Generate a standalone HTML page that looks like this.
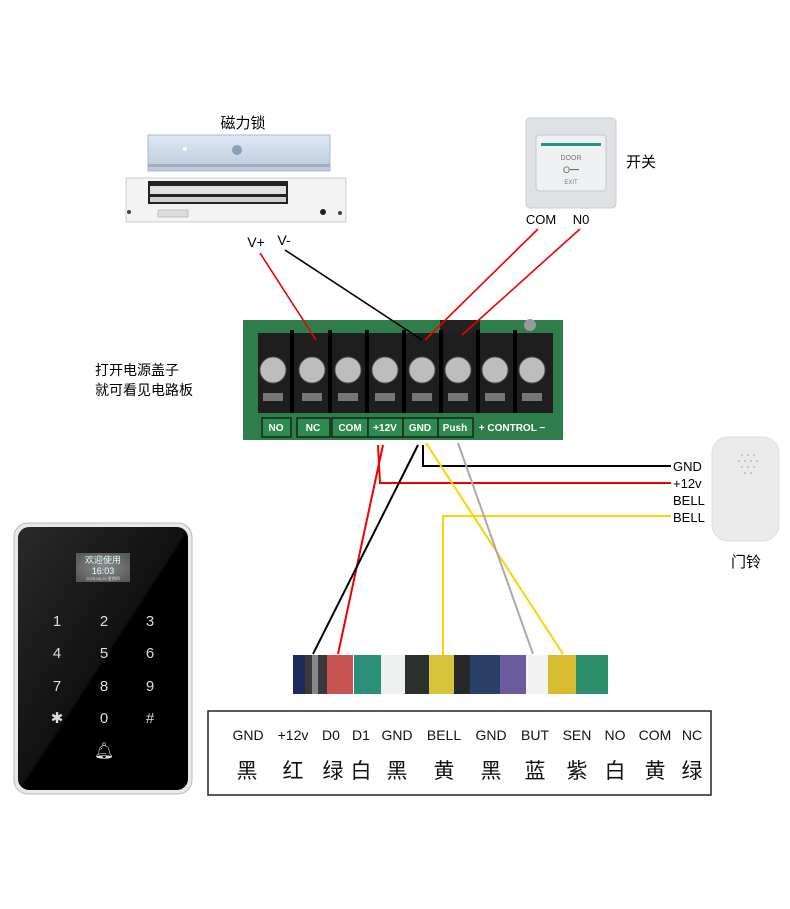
<!DOCTYPE html>
<html><head><meta charset="utf-8"><style>
body{margin:0;background:#fff;width:790px;height:904px;overflow:hidden}
text{font-family:"Liberation Sans","Noto Sans CJK SC",sans-serif}
</style></head><body>
<svg width="790" height="904" viewBox="0 0 790 904" xmlns="http://www.w3.org/2000/svg">
<defs>
<linearGradient id="met" x1="0" y1="0" x2="0" y2="1"><stop offset="0" stop-color="#dfe8f4"/><stop offset="1" stop-color="#b9c9dd"/></linearGradient>
<linearGradient id="kp" x1="0" y1="0" x2="1" y2="1"><stop offset="0" stop-color="#2a2a2a"/><stop offset="0.5" stop-color="#111"/><stop offset="0.51" stop-color="#000"/><stop offset="1" stop-color="#000"/></linearGradient>
<radialGradient id="scr" cx="0.5" cy="0.5" r="0.6"><stop offset="0" stop-color="#8c8c8c"/><stop offset="1" stop-color="#5a5a5a"/></radialGradient>
</defs>
<!-- magnetic lock -->
<text x="243" y="128" font-size="15" text-anchor="middle" fill="#000">磁力锁</text>
<rect x="148" y="135" width="182" height="36" fill="url(#met)" stroke="#a8b8cc"/>
<circle cx="237" cy="150" r="5" fill="#8aa0bc"/><circle cx="185" cy="149" r="2" fill="#fff"/>
<rect x="148" y="164" width="182" height="3" fill="#aab"/>
<rect x="126" y="178" width="220" height="44" fill="#f3f3f3" stroke="#ccc"/>
<rect x="148" y="181" width="140" height="23" fill="#222"/>
<rect x="150" y="186" width="136" height="8" fill="#e0e0e0"/>
<rect x="150" y="197" width="136" height="5" fill="#cfcfcf"/>
<rect x="158" y="210" width="30" height="7" fill="#ddd" stroke="#999" stroke-width="0.5"/>
<circle cx="323" cy="212" r="3" fill="#222"/><circle cx="129" cy="212" r="2" fill="#444"/><circle cx="340" cy="213" r="2" fill="#444"/>
<text x="256" y="247" font-size="14" text-anchor="middle">V+</text>
<text x="284" y="245" font-size="14" text-anchor="middle">V-</text>
<!-- exit button -->
<rect x="526" y="118" width="90" height="90" rx="4" fill="#dfe2e4" stroke="#ccc"/>
<rect x="536" y="135" width="70" height="56" rx="3" fill="#eef0f1" stroke="#c6c9cc"/>
<rect x="541" y="143" width="60" height="3" fill="#2b8f8a"/>
<text x="571" y="160" font-size="7" text-anchor="middle" fill="#777">DOOR</text>
<text x="571" y="173" font-size="9" text-anchor="middle" fill="#666">O━</text>
<text x="571" y="184" font-size="6" text-anchor="middle" fill="#777">EXIT</text>
<text x="626" y="167" font-size="15">开关</text>
<text x="541" y="224" font-size="13" text-anchor="middle">COM</text>
<text x="581" y="224" font-size="13" text-anchor="middle">N0</text>
<!-- board -->
<rect x="243" y="320" width="320" height="120" fill="#2f7d4a"/>
<rect x="440" y="320" width="40" height="14" fill="#222"/>
<circle cx="530" cy="325" r="6" fill="#999"/>
<g>
<rect x="258" y="333" width="295" height="80" fill="#1e1e1e"/>
<g fill="#bdbdbd" stroke="#555">
<circle cx="273" cy="370" r="13"/><circle cx="312" cy="370" r="13"/><circle cx="348" cy="370" r="13"/><circle cx="385" cy="370" r="13"/><circle cx="422" cy="370" r="13"/><circle cx="458" cy="370" r="13"/><circle cx="495" cy="370" r="13"/><circle cx="532" cy="370" r="13"/>
</g>
<g fill="#000"><rect x="290" y="330" width="4" height="83"/><rect x="328" y="330" width="4" height="83"/><rect x="365" y="330" width="4" height="83"/><rect x="402" y="330" width="4" height="83"/><rect x="439" y="330" width="4" height="83"/><rect x="476" y="330" width="4" height="83"/><rect x="513" y="330" width="4" height="83"/></g>
<g fill="#777"><rect x="263" y="393" width="20" height="8"/><rect x="302" y="393" width="20" height="8"/><rect x="338" y="393" width="20" height="8"/><rect x="375" y="393" width="20" height="8"/><rect x="412" y="393" width="20" height="8"/><rect x="448" y="393" width="20" height="8"/><rect x="485" y="393" width="20" height="8"/><rect x="522" y="393" width="20" height="8"/></g>
</g>
<g fill="#2e8a4f" stroke="#111" stroke-width="1.2">
<rect x="262" y="418" width="29" height="19"/><rect x="297" y="418" width="33" height="19"/><rect x="332" y="418" width="36" height="19"/><rect x="368" y="418" width="35" height="19"/><rect x="403" y="418" width="35" height="19"/><rect x="438" y="418" width="35" height="19"/>
</g>
<g font-size="10" font-weight="bold" fill="#fff" text-anchor="middle">
<text x="276" y="431">NO</text><text x="313" y="431">NC</text><text x="350" y="431">COM</text><text x="385" y="431">+12V</text><text x="420" y="431">GND</text><text x="455" y="431">Push</text><text x="512" y="431">+ CONTROL −</text>
</g>
<text x="95" y="375" font-size="14">打开电源盖子</text>
<text x="95" y="395" font-size="14">就可看见电路板</text>
<!-- upper wires -->
<g fill="none" stroke-width="1.6">
<line x1="260" y1="253" x2="316" y2="340" stroke="#e00"/>
<line x1="285" y1="250" x2="422" y2="340" stroke="#000"/>
<line x1="538" y1="229" x2="425" y2="340" stroke="#e00"/>
<line x1="580" y1="229" x2="462" y2="335" stroke="#e00"/>
</g>
<!-- lower wires -->
<g fill="none" stroke-width="2">
<polyline points="423,445 423,466 671,466" stroke="#000"/>
<polyline points="378,445 380,483 671,483" stroke="#e00"/>
<polyline points="671,516 443,516 443,657" stroke="#ffd100"/>
<line x1="383" y1="445" x2="338" y2="654" stroke="#e00"/>
<line x1="418" y1="445" x2="313" y2="654" stroke="#000"/>
<line x1="426" y1="443" x2="563" y2="654" stroke="#ffd100"/>
<line x1="458" y1="443" x2="533" y2="654" stroke="#aaa"/>
</g>
<g font-size="13" fill="#000"><text x="673" y="471">GND</text><text x="673" y="488">+12v</text><text x="673" y="505">BELL</text><text x="673" y="522">BELL</text></g>
<!-- doorbell -->
<rect x="712" y="437" width="67" height="104" rx="16" fill="#eaeaea" stroke="#ddd"/>
<g fill="#bbb"><circle cx="742" cy="455" r="1"/><circle cx="748" cy="455" r="1"/><circle cx="754" cy="455" r="1"/><circle cx="739" cy="461" r="1"/><circle cx="745" cy="461" r="1"/><circle cx="751" cy="461" r="1"/><circle cx="757" cy="461" r="1"/><circle cx="742" cy="467" r="1"/><circle cx="748" cy="467" r="1"/><circle cx="754" cy="467" r="1"/><circle cx="745" cy="473" r="1"/><circle cx="751" cy="473" r="1"/></g>
<text x="746" y="567" font-size="15" text-anchor="middle">门铃</text>
<!-- wire bundle -->
<g>
<rect x="293" y="655" width="13" height="39" fill="#1e2a5a"/>
<rect x="305" y="655" width="22" height="39" fill="#3a3a3a"/>
<rect x="312" y="655" width="6" height="39" fill="#888"/>
<rect x="327" y="655" width="26" height="39" fill="#c85454"/>
<rect x="354" y="655" width="27" height="39" fill="#2c8f78"/>
<rect x="381" y="655" width="24" height="39" fill="#eef0ef"/>
<rect x="405" y="655" width="24" height="39" fill="#2b2f2f"/>
<rect x="429" y="655" width="25" height="39" fill="#d7c23b"/>
<rect x="454" y="655" width="16" height="39" fill="#25292a"/>
<rect x="470" y="655" width="30" height="39" fill="#2a4066"/>
<rect x="500" y="655" width="26" height="39" fill="#6b5a9e"/>
<rect x="526" y="655" width="22" height="39" fill="#f2f2f2"/>
<rect x="548" y="655" width="28" height="39" fill="#d9bb30"/>
<rect x="576" y="655" width="32" height="39" fill="#2d8f6a"/>
</g>
<!-- table -->
<rect x="208" y="711" width="503" height="84" fill="#fff" stroke="#222" stroke-width="1.5"/>
<g font-size="14" text-anchor="middle" fill="#111">
<text x="248" y="740">GND</text><text x="293" y="740">+12v</text><text x="331" y="740">D0</text><text x="361" y="740">D1</text><text x="397" y="740">GND</text><text x="444" y="740">BELL</text><text x="491" y="740">GND</text><text x="535" y="740">BUT</text><text x="577" y="740">SEN</text><text x="615" y="740">NO</text><text x="655" y="740">COM</text><text x="692" y="740">NC</text>
</g>
<g font-size="21" text-anchor="middle" fill="#111">
<text x="247" y="778">黑</text><text x="293" y="778">红</text><text x="333" y="778">绿</text><text x="361" y="778">白</text><text x="397" y="778">黑</text><text x="444" y="778">黄</text><text x="491" y="778">黑</text><text x="535" y="778">蓝</text><text x="577" y="778">紫</text><text x="615" y="778">白</text><text x="655" y="778">黄</text><text x="692" y="778">绿</text>
</g>
<!-- keypad -->
<rect x="14" y="523" width="178" height="271" rx="14" fill="#e8e8e8" stroke="#bbb"/>
<rect x="18" y="527" width="170" height="263" rx="11" fill="url(#kp)"/>
<rect x="76" y="553" width="54" height="29" fill="url(#scr)"/>
<text x="103" y="563" font-size="9" fill="#dff" text-anchor="middle">欢迎使用</text>
<text x="103" y="574" font-size="9" fill="#dff" text-anchor="middle" font-family="Liberation Mono">16:03</text>
<text x="103" y="580" font-size="4" fill="#cde" text-anchor="middle">2025-06-26 星期四</text>
<g font-size="15" fill="#ddd" text-anchor="middle">
<text x="57" y="626">1</text><text x="104" y="626">2</text><text x="150" y="626">3</text>
<text x="57" y="658">4</text><text x="104" y="658">5</text><text x="150" y="658">6</text>
<text x="57" y="691">7</text><text x="104" y="691">8</text><text x="150" y="691">9</text>
<text x="57" y="723">✱</text><text x="104" y="723">0</text><text x="150" y="723">#</text>
<text x="104" y="756" font-size="16">🔔︎</text>
</g>
</svg>
</body></html>
